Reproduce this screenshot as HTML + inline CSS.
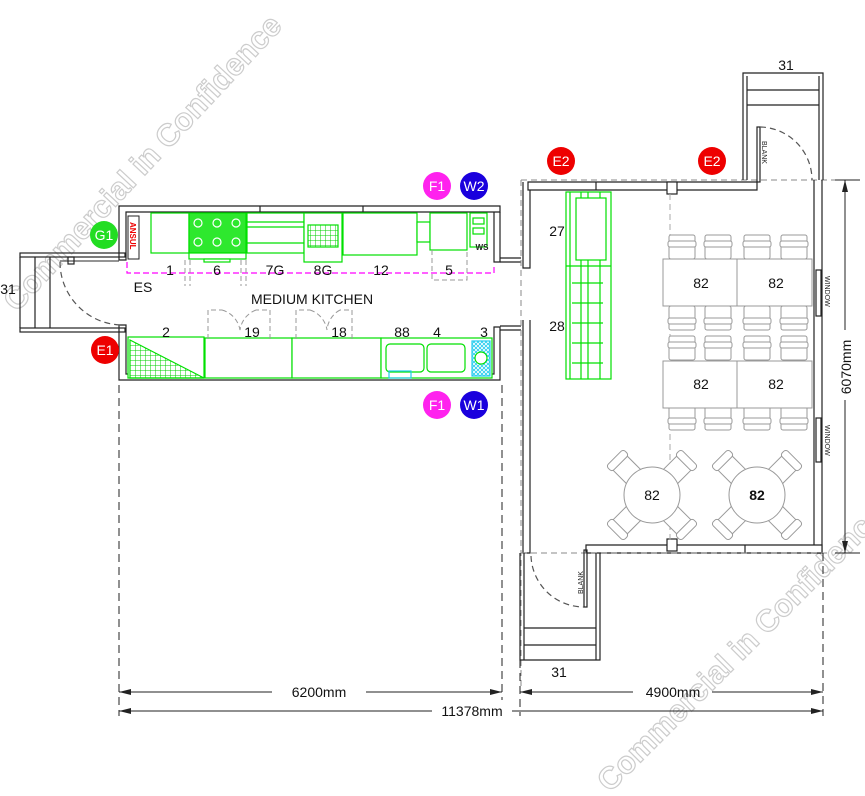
<!DOCTYPE html>
<html><head><meta charset="utf-8"><style>
html,body{margin:0;padding:0;background:#fff;}
svg{display:block;}
text{font-family:"Liberation Sans",Arial,sans-serif;}
</style></head><body>
<svg width="865" height="796" viewBox="0 0 865 796" xmlns="http://www.w3.org/2000/svg">
<defs>
<pattern id="hatch" width="5" height="5" patternUnits="userSpaceOnUse"><path d="M0 0H5M0 0V5" stroke="#00d000" stroke-width="1"/></pattern>
<pattern id="cyan" width="4" height="4" patternUnits="userSpaceOnUse"><path d="M0 0L4 4M4 0L0 4" stroke="#22ccee" stroke-width="0.8"/></pattern>
<g id="chair"><rect x="-13" y="-12" width="26" height="24" rx="2" fill="#fff" stroke="#999" stroke-width="1"/><rect x="-14" y="-6" width="28" height="6" rx="2" fill="#fff" stroke="#999" stroke-width="1"/></g>
<g id="dchair"><rect x="-10" y="-14" width="20" height="28" rx="3" fill="#fff" stroke="#999"/><rect x="-12" y="-16" width="24" height="8" rx="3" fill="#fff" stroke="#999"/></g>
</defs>

<!-- watermarks -->
<g fill="#fff" stroke="#ccc" stroke-width="1.2" font-weight="bold" font-size="31">
<text transform="translate(150,170) rotate(-47)" text-anchor="middle">Commercial in Confidence</text>
<text transform="translate(748,655) rotate(-45)" text-anchor="middle">Commercial in Confidence</text>
</g>

<g fill="none" stroke="#222" stroke-width="1.2">
<!-- kitchen walls -->
<path d="M119 206H500V212H126V260H119Z" fill="#fff"/>
<line x1="260" y1="206" x2="260" y2="212"/><line x1="363" y1="206" x2="363" y2="212"/>
<path d="M494 212V262H500V212"/>
<path d="M119 325H126V374H494V327H500V380H119Z" fill="#fff"/>
<line x1="500" y1="258" x2="521" y2="258"/><line x1="500" y1="262" x2="521" y2="262"/>
<line x1="500" y1="326" x2="521" y2="326"/><line x1="500" y1="330" x2="521" y2="330"/>
<!-- left stair -->
<rect x="20" y="253" width="105" height="4"/>
<rect x="20" y="328" width="105" height="4"/>
<line x1="20" y1="257" x2="20" y2="328"/>
<line x1="35" y1="257" x2="35" y2="328"/><line x1="50" y1="257" x2="50" y2="328"/>
<line x1="60" y1="261" x2="119" y2="261" stroke="#555"/>
<rect x="68" y="257" width="6" height="7"/>
<path d="M60 262 A63 63 0 0 0 122 325" stroke-dasharray="6 4" stroke="#555"/>

<!-- right building -->
<path d="M521 180H860" stroke="#888" stroke-dasharray="6 4" stroke-width="1"/>
<path d="M521 180V690" stroke="#888" stroke-dasharray="6 4" stroke-width="1"/>
<path d="M528 182H757V190H528Z" fill="#fff"/>
<line x1="596" y1="182" x2="596" y2="190"/>
<rect x="667" y="182" width="10" height="12" fill="#fff"/>
<path d="M523 182V268H530V190"/>
<path d="M523 320V553H530V320"/>
<path d="M814 180V553H822V180"/>
<rect x="816" y="270" width="5" height="46" fill="#fff"/>
<rect x="816" y="418" width="5" height="44" fill="#fff"/>
<path d="M586 545H822V553H586Z" fill="#fff"/>
<line x1="745" y1="545" x2="745" y2="553"/>
<rect x="667" y="539" width="10" height="12" fill="#fff"/>
<path d="M521 553H830" stroke="#888" stroke-dasharray="6 4" stroke-width="1"/>
<path d="M670 194V540" stroke="#aaa" stroke-dasharray="6 4" stroke-width="1"/>
<!-- top stair -->
<path d="M743 180V73H823V180"/>
<line x1="747" y1="76" x2="747" y2="180"/><line x1="819" y1="76" x2="819" y2="180"/>
<line x1="747" y1="90" x2="819" y2="90"/><line x1="747" y1="105" x2="819" y2="105"/>
<rect x="757" y="127" width="3" height="55"/>
<path d="M760 127 A53 53 0 0 1 812 180" stroke-dasharray="6 4" stroke="#555"/>
<!-- bottom stair -->
<path d="M520 553V660H600V553"/>
<line x1="524" y1="553" x2="524" y2="660"/><line x1="596" y1="553" x2="596" y2="660"/>
<line x1="524" y1="628" x2="596" y2="628"/><line x1="524" y1="645" x2="596" y2="645"/>
<rect x="584" y="550" width="3" height="57"/>
<path d="M531 556 A53 53 0 0 0 584 607" stroke-dasharray="6 4" stroke="#555"/>
</g>

<!-- dimensions -->
<g stroke="#222" stroke-width="1" fill="none">
<path d="M119 385V716M502 385V700M520 660V716M823 553V716" stroke-dasharray="8 5"/>
<line x1="119" y1="692" x2="272" y2="692"/><line x1="366" y1="692" x2="502" y2="692"/>
<line x1="520" y1="692" x2="633" y2="692"/><line x1="712" y1="692" x2="823" y2="692"/>
<line x1="119" y1="711" x2="432" y2="711"/><line x1="512" y1="711" x2="823" y2="711"/>
<line x1="845" y1="180" x2="845" y2="330"/><line x1="845" y1="400" x2="845" y2="553"/>
<line x1="835" y1="180" x2="860" y2="180"/><line x1="835" y1="553" x2="860" y2="553"/>
</g>
<g fill="#222">
<path d="M119 692l12-3v6z M502 692l-12-3v6z M520 692l12-3v6z M823 692l-12-3v6z M119 711l12-3v6z M823 711l-12-3v6z M845 180l-3 12h6z M845 553l-3-12h6z"/>
</g>
<g font-size="14" fill="#111" text-anchor="middle">
<text x="319" y="697">6200mm</text><text x="673" y="697">4900mm</text><text x="472" y="716">11378mm</text>
<text transform="translate(851,367) rotate(-90)">6070mm</text>
</g>

<!-- kitchen equipment -->
<g fill="#fff" stroke="#00e000" stroke-width="1.2">
<rect x="151" y="213" width="38" height="40"/>
<rect x="189" y="213" width="57" height="40" fill="#2ee82e"/>
<rect x="189" y="253" width="57" height="6"/>
<rect x="204" y="259" width="26" height="3"/>
<rect x="247" y="213" width="57" height="40"/>
<line x1="247" y1="222" x2="304" y2="222"/><line x1="247" y1="227" x2="304" y2="227"/><line x1="247" y1="243" x2="304" y2="243"/>
<rect x="304" y="213" width="38" height="49"/>
<rect x="308" y="225" width="30" height="22" fill="url(#hatch)"/>
<rect x="343" y="213" width="74" height="42"/>
<rect x="417" y="222" width="13" height="20"/>
<rect x="430" y="213" width="37" height="37"/>
<rect x="470" y="213" width="17" height="34"/>
<rect x="473" y="218" width="11" height="6"/><rect x="473" y="228" width="11" height="6"/>
<rect x="128" y="337" width="76" height="41"/>
<path d="M130 340L204 378H130Z" fill="url(#hatch)"/>
<rect x="205" y="338" width="87" height="40"/>
<rect x="292" y="338" width="89" height="40"/>
<rect x="381" y="338" width="111" height="40"/>
<rect x="386" y="344" width="38" height="28" rx="4"/>
<rect x="427" y="344" width="38" height="28" rx="4"/>
<rect x="472" y="341" width="18" height="35" fill="url(#cyan)" stroke="#22ccee"/>
<circle cx="481" cy="358" r="6"/>
<rect x="389" y="371" width="22" height="7" stroke="#22ccee" fill="none"/>
<rect x="566" y="192" width="45" height="187"/>
<line x1="570" y1="192" x2="570" y2="379"/><line x1="581" y1="192" x2="581" y2="379"/><line x1="588" y1="192" x2="588" y2="379"/><line x1="600" y1="192" x2="600" y2="379"/>
<rect x="576" y="198" width="30" height="62"/>
<line x1="566" y1="266" x2="611" y2="266"/>
<line x1="572" y1="283" x2="603" y2="283"/><line x1="572" y1="303" x2="603" y2="303"/><line x1="572" y1="323" x2="603" y2="323"/><line x1="572" y1="343" x2="603" y2="343"/><line x1="572" y1="363" x2="603" y2="363"/>
</g>
<g stroke="#fff" stroke-width="1.2" fill="none">
<circle cx="198" cy="223" r="4"/><circle cx="217" cy="223" r="4"/><circle cx="236" cy="223" r="4"/>
<circle cx="198" cy="242" r="4"/><circle cx="217" cy="242" r="4"/><circle cx="236" cy="242" r="4"/>
</g>
<path d="M127 262V273H494V264" fill="none" stroke="#ff00ff" stroke-width="1.2" stroke-dasharray="6 3"/>
<rect x="128" y="216" width="11" height="43" fill="#fff" stroke="#222"/>
<text transform="translate(130,222) rotate(90)" font-size="8" font-weight="bold" fill="#e00">ANSUL</text>
<g stroke="#999" fill="none" stroke-width="1" stroke-dasharray="5 3">
<path d="M185 260V286M190 260V286M241 260V286M246 260V286M432 250V280H467V250"/>
<path d="M208 339V310H222M222 310A25 25 0 0 1 240 330M270 339V310H256M256 310A25 25 0 0 0 240 330"/>
<path d="M296 339V310H310M310 310A25 25 0 0 1 327 330M352 339V310H340M340 310A25 25 0 0 0 327 330"/>
</g>
<text x="482" y="250" font-size="8" font-weight="bold" text-anchor="middle" fill="#222">WS</text>

<!-- dining -->
<g stroke="#999" fill="#fff" stroke-width="1">
<use href="#chair" x="682" y="247"/><use href="#chair" x="718" y="247"/><use href="#chair" x="757" y="247"/><use href="#chair" x="794" y="247"/>
<use href="#chair" x="682" y="318" transform="rotate(180 682 318)"/><use href="#chair" x="718" y="318" transform="rotate(180 718 318)"/><use href="#chair" x="757" y="318" transform="rotate(180 757 318)"/><use href="#chair" x="794" y="318" transform="rotate(180 794 318)"/>
<use href="#chair" x="682" y="348"/><use href="#chair" x="718" y="348"/><use href="#chair" x="757" y="348"/><use href="#chair" x="794" y="348"/>
<use href="#chair" x="682" y="418" transform="rotate(180 682 418)"/><use href="#chair" x="718" y="418" transform="rotate(180 718 418)"/><use href="#chair" x="757" y="418" transform="rotate(180 757 418)"/><use href="#chair" x="794" y="418" transform="rotate(180 794 418)"/>
<rect x="663" y="259" width="149" height="47"/><line x1="737" y1="259" x2="737" y2="306"/>
<rect x="663" y="361" width="149" height="47"/><line x1="737" y1="361" x2="737" y2="408"/>
<use href="#dchair" transform="translate(626,469) rotate(-45)"/><use href="#dchair" transform="translate(678,469) rotate(45)"/>
<use href="#dchair" transform="translate(626,521) rotate(-135)"/><use href="#dchair" transform="translate(678,521) rotate(135)"/>
<use href="#dchair" transform="translate(731,469) rotate(-45)"/><use href="#dchair" transform="translate(783,469) rotate(45)"/>
<use href="#dchair" transform="translate(731,521) rotate(-135)"/><use href="#dchair" transform="translate(783,521) rotate(135)"/>
<circle cx="652" cy="495" r="28"/><circle cx="757" cy="495" r="28"/>
</g>

<!-- labels -->
<g font-size="14" fill="#111" text-anchor="middle">
<text x="170" y="275">1</text><text x="217" y="275">6</text><text x="275" y="275">7G</text><text x="323" y="275">8G</text><text x="381" y="275">12</text><text x="449" y="275">5</text>
<text x="143" y="292">ES</text>
<text x="312" y="304">MEDIUM KITCHEN</text>
<text x="166" y="337">2</text><text x="252" y="337">19</text><text x="339" y="337">18</text><text x="402" y="337">88</text><text x="437" y="337">4</text><text x="484" y="337">3</text>
<text x="557" y="236">27</text><text x="557" y="331">28</text>
<text x="701" y="288">82</text><text x="776" y="288">82</text>
<text x="701" y="389">82</text><text x="776" y="389">82</text>
<text x="652" y="500">82</text><text x="757" y="500" font-weight="bold">82</text>
<text x="786" y="70">31</text><text x="559" y="677">31</text><text x="8" y="294">31</text>
</g>
<g font-size="7" fill="#222">
<text transform="translate(762,141) rotate(90)">BLANK</text>
<text transform="translate(583,594) rotate(-90)">BLANK</text>
<text transform="translate(825,276) rotate(90)">WINDOW</text>
<text transform="translate(825,425) rotate(90)">WINDOW</text>
</g>

<!-- markers -->
<g font-size="14" fill="#fff" text-anchor="middle">
<circle cx="104" cy="235" r="14" fill="#22dd22"/><text x="104" y="240">G1</text>
<circle cx="105" cy="350" r="14" fill="#ee0000"/><text x="105" y="355">E1</text>
<circle cx="437" cy="186" r="14" fill="#ff22ee"/><text x="437" y="191">F1</text>
<circle cx="474" cy="186" r="14" fill="#1a00dd"/><text x="474" y="191">W2</text>
<circle cx="437" cy="405" r="14" fill="#ff22ee"/><text x="437" y="410">F1</text>
<circle cx="474" cy="405" r="14" fill="#1a00dd"/><text x="474" y="410">W1</text>
<circle cx="561" cy="161" r="14" fill="#ee0000"/><text x="561" y="166">E2</text>
<circle cx="712" cy="161" r="14" fill="#ee0000"/><text x="712" y="166">E2</text>
</g>
</svg>
</body></html>
